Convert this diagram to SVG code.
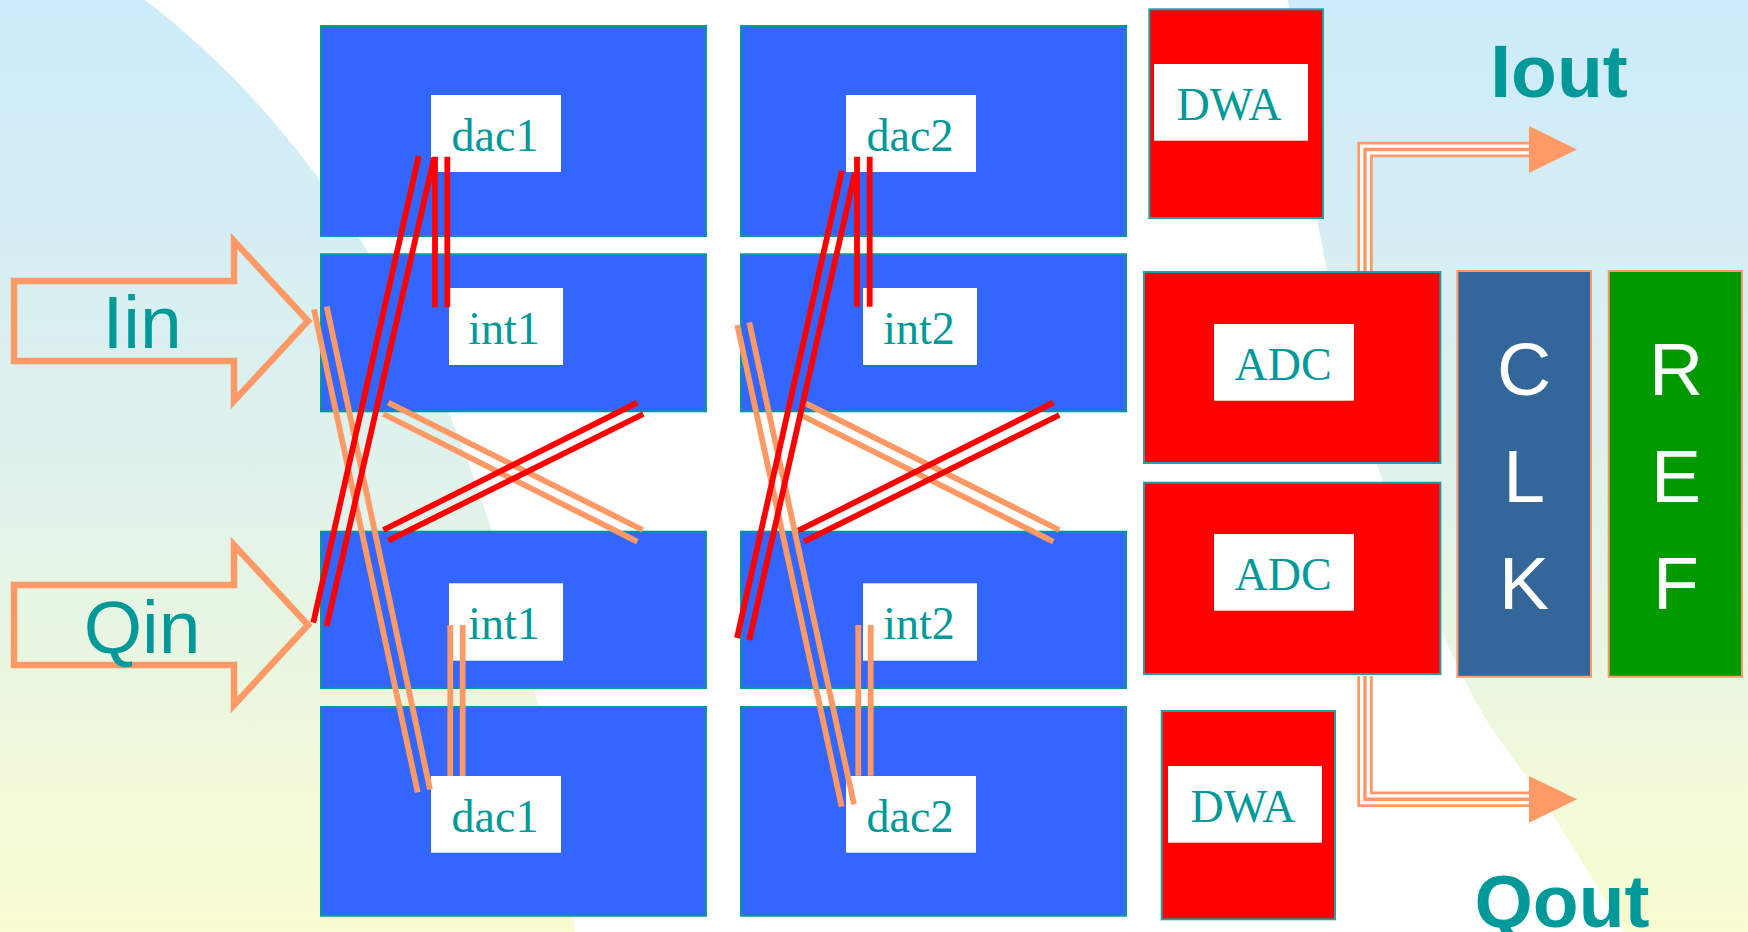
<svg xmlns="http://www.w3.org/2000/svg" width="1748" height="932" viewBox="0 0 1748 932">
  <defs>
    <linearGradient id="bgGrad" gradientUnits="userSpaceOnUse" x1="0" y1="0" x2="0" y2="932">
      <stop offset="0" stop-color="#cdebfb"/>
      <stop offset="0.5" stop-color="#dff2ec"/>
      <stop offset="1" stop-color="#f8fcd0"/>
    </linearGradient>
    <style>
      .blk { fill: #3366ff; stroke: #009999; stroke-width: 2; }
      .redblk { fill: #ff0000; stroke: #20a0a0; stroke-width: 2; }
      .clk { fill: #336699; stroke: #ff9966; stroke-width: 2; }
      .ref { fill: #009900; stroke: #ff9966; stroke-width: 2; }
      .lbl { fill: #ffffff; }
      .lt { font-family: "Liberation Serif", "Times New Roman", serif; font-size: 46px; fill: #009999; text-anchor: middle; }
      .io { font-family: "Liberation Sans", Arial, sans-serif; font-size: 75px; fill: #009999; text-anchor: middle; }
      .iob { font-family: "Liberation Sans", Arial, sans-serif; font-size: 75px; font-weight: bold; fill: #009999; text-anchor: middle; }
      .vl { font-family: "Liberation Sans", Arial, sans-serif; font-size: 75px; fill: #ffffff; text-anchor: middle; }
      .inarrow { fill: none; stroke: #ff9966; stroke-width: 6.5; stroke-linejoin: miter; stroke-miterlimit: 10; }
      .r { stroke: #ff0000; stroke-width: 5.8; fill: none; }
      .o { stroke: #ff9966; stroke-width: 5.8; fill: none; }
      .bus0 { stroke: #ff9966; stroke-width: 15.4; fill: none; stroke-linejoin: miter; }
      .bus1 { stroke: #ffffff; stroke-width: 10; fill: none; stroke-linejoin: miter; }
      .bus2 { stroke: #ff9966; stroke-width: 3.5; fill: none; stroke-linejoin: miter; }
      .head { fill: #ff9966; }
    </style>
  </defs>

  <!-- backdrop: white band between two tinted regions -->
  <g id="background">
    <rect x="0" y="0" width="1748" height="932" fill="#ffffff"/>
    <path fill="url(#bgGrad)" d="M0,0 H145 C405,200 527,532 575,932 H0 Z"/>
    <path fill="url(#bgGrad)" d="M1288,0 C1297.7,73.3 1302,142.2 1317,220 C1332,297.8 1353,389.5 1378,467 C1403,544.5 1438.3,627.8 1467,685 C1495.7,742.2 1524,769.2 1550,810 C1576,850.8 1598.7,890 1623,930 L1624,932 H1748 V0 Z"/>
  </g>

  <!-- input arrows -->
  <g id="Iin">
    <path class="inarrow" d="M14,281 H234 V241 L308,321 L234,401 V361 H14 Z"/>
    <text class="io" x="142" y="348">Iin</text>
  </g>
  <g id="Qin">
    <path class="inarrow" d="M14,585 H234 V545 L308,625 L234,705 V665 H14 Z"/>
    <text class="io" x="142" y="653">Qin</text>
  </g>

  <!-- modulator column 1 -->
  <g id="dac1_top">
    <rect class="blk" x="321" y="26" width="385" height="210"/>
    <rect class="lbl" x="431" y="95" width="130" height="77"/>
    <text class="lt" x="495" y="151">dac1</text>
  </g>
  <g id="int1_top">
    <rect class="blk" x="321" y="254.3" width="385" height="157"/>
    <rect class="lbl" x="449" y="288" width="114" height="77"/>
    <text class="lt" x="504" y="343.5">int1</text>
  </g>
  <g id="int1_bottom">
    <rect class="blk" x="321" y="531.7" width="385" height="156.3"/>
    <rect class="lbl" x="449" y="583.3" width="114" height="77.4"/>
    <text class="lt" x="504" y="638.5">int1</text>
  </g>
  <g id="dac1_bottom">
    <rect class="blk" x="321" y="707" width="385" height="208.7"/>
    <rect class="lbl" x="431" y="776" width="130" height="76.7"/>
    <text class="lt" x="495" y="831.7">dac1</text>
  </g>

  <!-- modulator column 2 -->
  <g id="dac2_top">
    <rect class="blk" x="741" y="26" width="385" height="210"/>
    <rect class="lbl" x="846" y="95" width="130" height="77"/>
    <text class="lt" x="910" y="151">dac2</text>
  </g>
  <g id="int2_top">
    <rect class="blk" x="741" y="254.3" width="385" height="157"/>
    <rect class="lbl" x="863" y="288" width="114" height="77"/>
    <text class="lt" x="919" y="343.5">int2</text>
  </g>
  <g id="int2_bottom">
    <rect class="blk" x="741" y="531.7" width="385" height="156.3"/>
    <rect class="lbl" x="863" y="583.3" width="114" height="77.4"/>
    <text class="lt" x="919" y="638.5">int2</text>
  </g>
  <g id="dac2_bottom">
    <rect class="blk" x="741" y="707" width="385" height="208.7"/>
    <rect class="lbl" x="846" y="776" width="130" height="76.7"/>
    <text class="lt" x="910" y="831.7">dac2</text>
  </g>

  <!-- back end -->
  <g id="dwa_top">
    <rect class="redblk" x="1149.3" y="9.3" width="173.7" height="208.7"/>
    <rect class="lbl" x="1154" y="64" width="154" height="76.7"/>
    <text class="lt" x="1229" y="119.5">DWA</text>
  </g>
  <g id="adc_top">
    <rect class="redblk" x="1144" y="272" width="296.4" height="191"/>
    <rect class="lbl" x="1214" y="324" width="140" height="76.7"/>
    <text class="lt" x="1283" y="379.5">ADC</text>
  </g>
  <g id="adc_bottom">
    <rect class="redblk" x="1144" y="482.7" width="296.4" height="191.3"/>
    <rect class="lbl" x="1214" y="534" width="140" height="76.7"/>
    <text class="lt" x="1283" y="589.5">ADC</text>
  </g>
  <g id="dwa_bottom">
    <rect class="redblk" x="1161.7" y="711" width="173.3" height="208.3"/>
    <rect class="lbl" x="1168" y="766" width="154" height="76.7"/>
    <text class="lt" x="1243" y="822.3">DWA</text>
  </g>
  <g id="clk">
    <rect class="clk" x="1457.4" y="271" width="133.6" height="405.7"/>
    <text class="vl" x="1524" y="394.5">C</text>
    <text class="vl" x="1524" y="501.7">L</text>
    <text class="vl" x="1524" y="609.3">K</text>
  </g>
  <g id="ref">
    <rect class="ref" x="1608.7" y="271" width="133.3" height="405.7"/>
    <text class="vl" x="1676" y="394.5">R</text>
    <text class="vl" x="1676" y="501.7">E</text>
    <text class="vl" x="1676" y="609.3">F</text>
  </g>

  <!-- output labels -->
  <g id="Iout">
    <text class="iob" x="1559" y="96.7">Iout</text>
  </g>
  <g id="Qout">
    <text class="iob" x="1562" y="926.7">Qout</text>
  </g>

  <!-- signal paths -->
  <g id="connectors">
    <!-- column 1 -->
    <line class="o" x1="314" y1="309.3" x2="417.7" y2="792.3"/>
    <line class="o" x1="326.7" y1="306.7" x2="430" y2="789.3"/>
    <line class="o" x1="450.3" y1="625" x2="450.3" y2="776"/>
    <line class="o" x1="462.7" y1="625" x2="462.7" y2="776"/>
    <line class="o" x1="388.3" y1="402.7" x2="642.7" y2="530"/>
    <line class="o" x1="383.3" y1="414" x2="637.3" y2="541.7"/>
    <line class="r" x1="418.7" y1="156" x2="313.3" y2="622.7"/>
    <line class="r" x1="434" y1="158" x2="326.7" y2="626"/>
    <line class="r" x1="435" y1="156.7" x2="435" y2="307.3"/>
    <line class="r" x1="447.3" y1="156.7" x2="447.3" y2="307.3"/>
    <line class="r" x1="637.3" y1="402.7" x2="383.3" y2="530"/>
    <line class="r" x1="643.3" y1="414" x2="388.3" y2="540.7"/>

    <!-- column 2 -->
    <line class="o" x1="737.3" y1="325" x2="841.7" y2="806.7"/>
    <line class="o" x1="749.3" y1="322.3" x2="854" y2="804.3"/>
    <line class="o" x1="858.3" y1="625" x2="858.3" y2="775.7"/>
    <line class="o" x1="870.7" y1="625" x2="870.7" y2="775.7"/>
    <line class="o" x1="805.7" y1="403.3" x2="1059.3" y2="530"/>
    <line class="o" x1="802.7" y1="416" x2="1053.3" y2="541.7"/>
    <line class="r" x1="842" y1="170.7" x2="737" y2="638"/>
    <line class="r" x1="855" y1="172.7" x2="749.3" y2="640"/>
    <line class="r" x1="857" y1="156.7" x2="857" y2="306.7"/>
    <line class="r" x1="869.7" y1="156.7" x2="869.7" y2="306.7"/>
    <line class="r" x1="1053.3" y1="402.7" x2="798.3" y2="530.7"/>
    <line class="r" x1="1059.3" y1="415" x2="804" y2="541.7"/>

    <!-- output buses -->
    <path class="bus0" d="M1365,271 V149.5 H1530"/>
    <path class="bus1" d="M1365,271 V149.5 H1530"/>
    <path class="bus2" d="M1365,271 V149.5 H1530"/>
    <polygon class="head" points="1529,126 1577,149.5 1529,173"/>

    <path class="bus0" d="M1365,676 V799.3 H1530"/>
    <path class="bus1" d="M1365,676 V799.3 H1530"/>
    <path class="bus2" d="M1365,676 V799.3 H1530"/>
    <polygon class="head" points="1529,776 1577,799.3 1529,822.7"/>
  </g>
</svg>
